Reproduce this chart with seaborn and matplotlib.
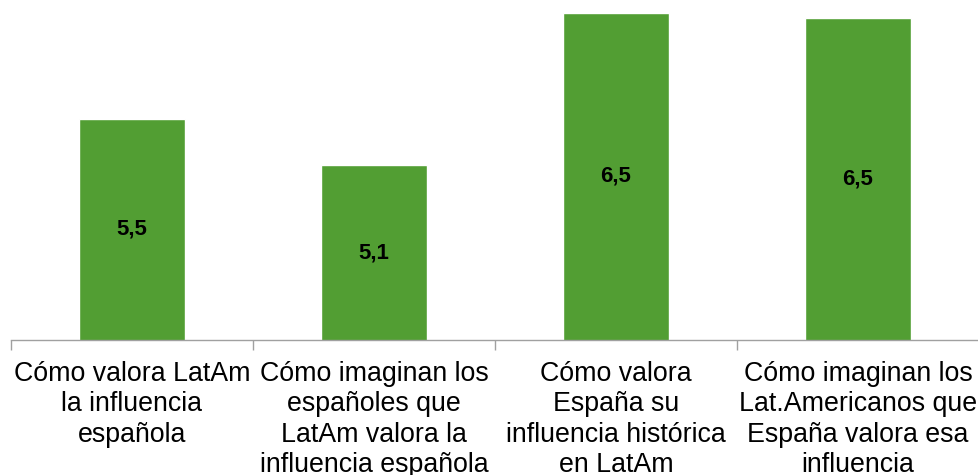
import pandas as pd
import matplotlib
matplotlib.use("Agg")
import matplotlib.pyplot as plt
import seaborn as sns

categorias = [
    "Cómo valora LatAm\nla influencia\nespañola",
    "Cómo imaginan los\nespañoles que\nLatAm valora la\ninfluencia española",
    "Cómo valora\nEspaña su\ninfluencia histórica\nen LatAm",
    "Cómo imaginan los\nLat.Americanos que\nEspaña valora esa\ninfluencia",
]
valores = [5.5, 5.08, 6.46, 6.41]
etiquetas = ["5,5", "5,1", "6,5", "6,5"]

df = pd.DataFrame({"categoria": categorias, "valor": valores})

sns.set_style("white")
plt.rcParams["font.family"] = ["Liberation Sans", "DejaVu Sans"]

fig = plt.figure(figsize=(9.79, 4.75), dpi=100)
ax = fig.add_axes([11 / 979, 135 / 475, 968 / 979, 331.5 / 475])

sns.barplot(data=df, x="categoria", y="valor", color="#529e33",
            saturation=1, width=0.44, ax=ax)

ax.set_ylim(3.5, 6.5)
ax.set_xlim(-0.5, 3.5)

# etiquetas de valor en el centro de cada barra
for i, (v, t) in enumerate(zip(valores, etiquetas)):
    ax.text(i, (3.5 + v) / 2, t, ha="center", va="center",
            fontsize=16, fontweight="bold", color="black")

for s in ["top", "right", "left"]:
    ax.spines[s].set_visible(False)
ax.spines["bottom"].set_color("#a0a0a0")
ax.spines["bottom"].set_linewidth(1)

ax.set_yticks([])
ax.set_xticks([-0.5, 0.5, 1.5, 2.5, 3.5], minor=True)
ax.tick_params(axis="x", which="minor", length=7, color="#a0a0a0", width=1, bottom=True)
ax.tick_params(axis="x", which="major", length=0, pad=15, labelsize=19.3,
               labelcolor="black")
for lbl in ax.get_xticklabels():
    lbl.set_linespacing(1.22)
ax.set_xlabel("")
ax.set_ylabel("")

fig.savefig("out.png", dpi=100)
